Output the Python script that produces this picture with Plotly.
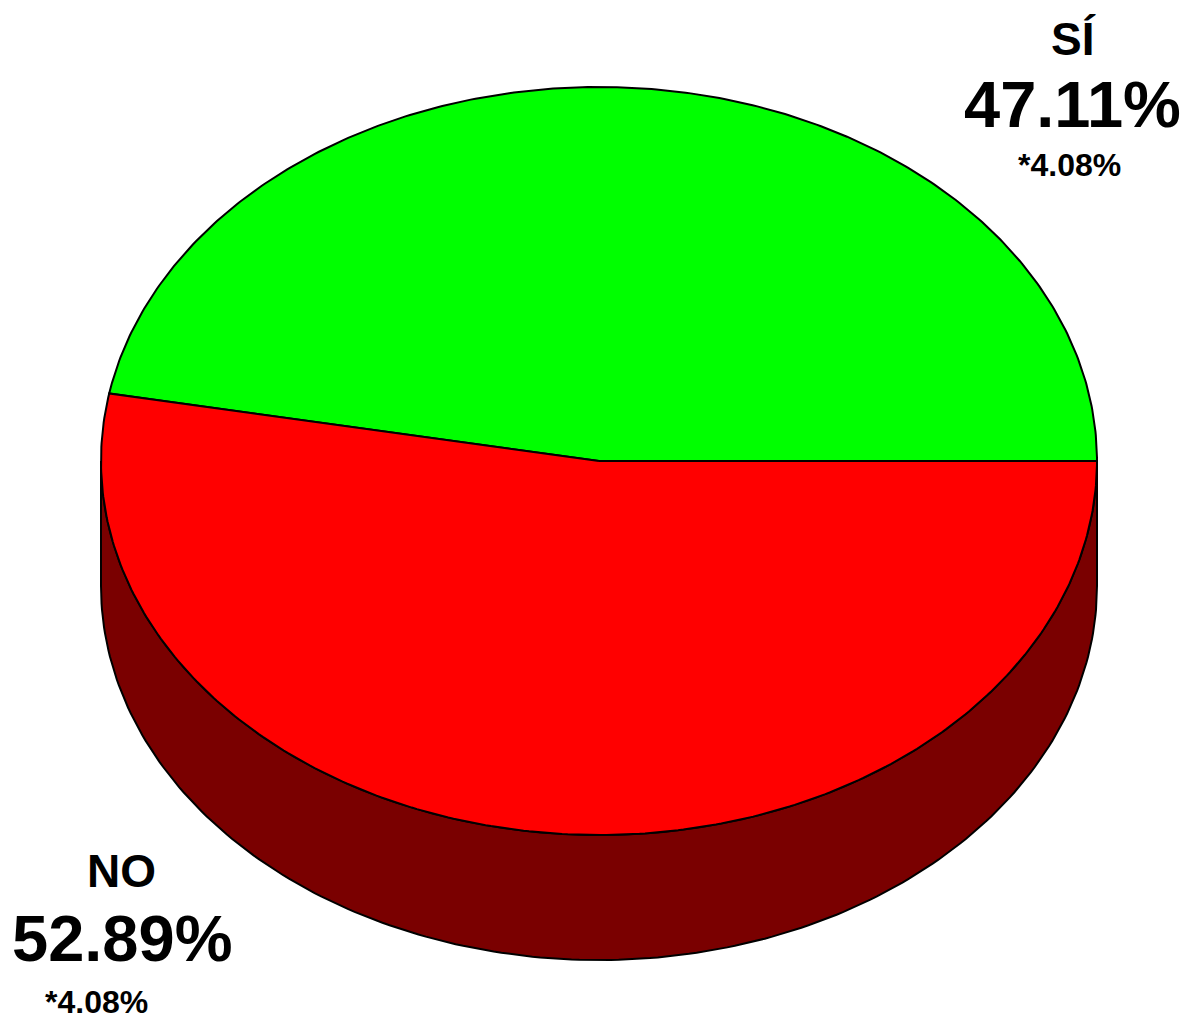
import numpy as np
import plotly.graph_objects as go

# ---- data ----
labels = ["SÍ", "NO"]
values = [47.11, 52.89]
errors = ["*4.08%", "*4.08%"]
top_colors = ["#00FF00", "#FF0000"]
side_colors = ["#007A00", "#7A0000"]

# ---- geometry (pixel space) ----
W, H = 1190, 1018
cx, cy = 599, 461
rx, ry = 498, 374
depth = 125

def pt(theta_deg, dy=0.0):
    t = np.radians(theta_deg)
    return cx + rx * np.cos(t), cy - ry * np.sin(t) + dy

fig = go.Figure()

total = sum(values)
angles = [0.0]
for v in values:
    angles.append(angles[-1] + 360.0 * v / total)

# side walls (front half visible: 180..360)
for i in range(len(values)):
    a0, a1 = max(angles[i], 180.0), min(angles[i + 1], 360.0)
    if a1 <= a0:
        continue
    th = np.linspace(a0, a1, 200)
    xt, yt = pt(th)
    xb, yb = pt(th[::-1], depth)
    xs = np.concatenate([xt, xb, xt[:1]])
    ys = np.concatenate([yt, yb, yt[:1]])
    fig.add_trace(go.Scatter(x=xs, y=ys, mode="lines", fill="toself",
                             fillcolor=side_colors[i],
                             line=dict(color="black", width=2),
                             hoverinfo="skip", showlegend=False))

# top faces
for i in range(len(values)):
    th = np.linspace(angles[i], angles[i + 1], 300)
    xa, ya = pt(th)
    xs = np.concatenate([[cx], xa, [cx]])
    ys = np.concatenate([[cy], ya, [cy]])
    fig.add_trace(go.Scatter(x=xs, y=ys, mode="lines", fill="toself",
                             fillcolor=top_colors[i],
                             line=dict(color="black", width=2),
                             hoverinfo="skip", showlegend=False))

# labels
label_pos = [
    [(1073, 39), (1072, 104), (1069, 165)],
    [(121, 871), (122, 938), (96, 1002)],
]
sizes = [46, 65, 32]
for i in range(len(values)):
    texts = [labels[i], f"{values[i]:.2f}%", errors[i]]
    for (x, y), t, s in zip(label_pos[i], texts, sizes):
        fig.add_annotation(x=x, y=y, text=f"<b>{t}</b>", showarrow=False,
                           xanchor="center", yanchor="middle",
                           font=dict(family="Liberation Sans, Arial", size=s, color="black"))

fig.update_layout(
    width=W, height=H,
    margin=dict(l=0, r=0, t=0, b=0),
    paper_bgcolor="white", plot_bgcolor="white",
    xaxis=dict(range=[0, W], visible=False, fixedrange=True),
    yaxis=dict(range=[H, 0], visible=False, fixedrange=True),
)

fig.write_html("out.html", config={"displayModeBar": False},
               post_script="document.body.style.margin='0';document.body.style.overflow='hidden';")
